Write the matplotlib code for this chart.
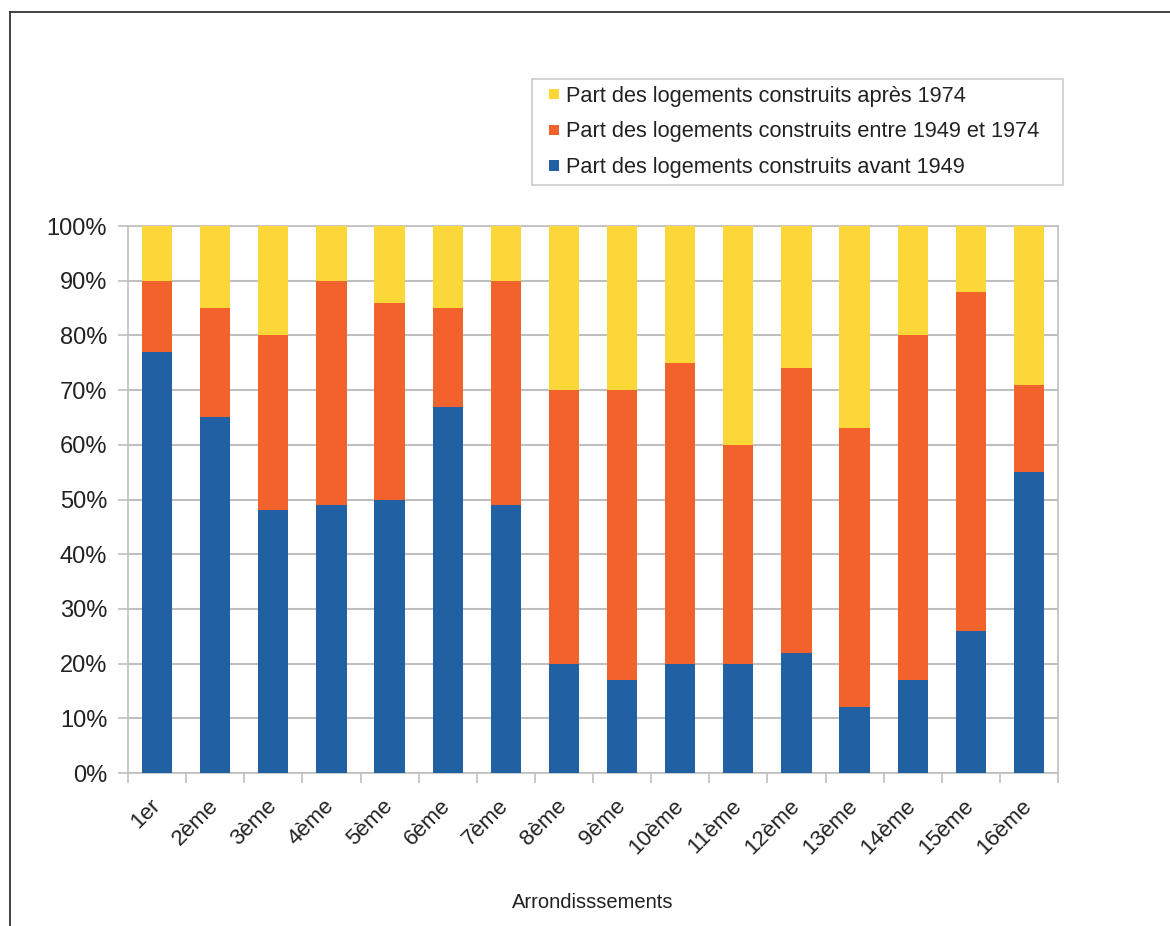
import numpy as np
import matplotlib
matplotlib.use("Agg")
from matplotlib import pyplot as plt
from matplotlib.lines import Line2D
from matplotlib.patches import Rectangle
from matplotlib.legend_handler import HandlerPatch

plt.rcParams['font.family'] = ['Liberation Sans', 'DejaVu Sans']

arrondissements = ['1er', '2ème', '3ème', '4ème', '5ème', '6ème', '7ème', '8ème',
                   '9ème', '10ème', '11ème', '12ème', '13ème', '14ème', '15ème', '16ème']
avant_1949 = [77, 65, 48, 49, 50, 67, 49, 20, 17, 20, 20, 22, 12, 17, 26, 55]
entre_1949_1974 = [13, 20, 32, 41, 36, 18, 41, 50, 53, 55, 40, 52, 51, 63, 62, 16]
apres_1974 = [10, 15, 20, 10, 14, 15, 10, 30, 30, 25, 40, 26, 37, 20, 12, 29]

labels = ['Part des logements construits avant 1949',
          'Part des logements construits entre 1949 et 1974',
          'Part des logements construits après 1974']
couleurs = ['#2161A3', '#F2622D', '#FBD737']
gris = '#BFBFBF'
texte = '#222222'


def carre(legend, orig_handle, xdescent, ydescent, width, height, fontsize):
    # petit carré collé à droite de la zone du symbole
    c = 7.3
    return Rectangle((width - c - xdescent, (height - c) / 2 - ydescent), c, c)


fig = plt.figure(figsize=(11.7, 9.26), dpi=100)
ax = fig.add_axes([0.1094, 0.1652, 0.7949, 0.5907])

x = np.arange(len(arrondissements))
bas = np.zeros(len(x))
barres = []
for serie, lab, c in zip([avant_1949, entre_1949_1974, apres_1974], labels, couleurs):
    b = ax.bar(x, serie, width=0.52, bottom=bas, color=c, label=lab, zorder=3)
    barres.append(b)
    bas = bas + np.array(serie)

ax.set_xlim(-0.5, len(x) - 0.5)
ax.set_ylim(0, 100)
ax.set_yticks(range(0, 101, 10))
ax.set_yticklabels(['%d%%' % v for v in range(0, 101, 10)], fontsize=17, color=texte)
ax.yaxis.grid(True, color=gris, linewidth=1.5, zorder=0)

# étiquettes légèrement décalées vers la gauche, comme dans l'original
ax.set_xticks(x - 0.13)
ax.set_xticklabels(arrondissements, rotation=45, ha='right', rotation_mode='anchor',
                   fontsize=16, color=texte)
ax.set_xticks(np.arange(-0.5, len(x)), minor=True)
ax.tick_params(axis='x', which='major', length=0, pad=16)
ax.tick_params(axis='x', which='minor', length=7, color=gris, width=1.2)
ax.tick_params(axis='y', length=7, color=gris, width=1.2, pad=8)

for s in ['left', 'right', 'bottom', 'top']:
    ax.spines[s].set_color(gris)
    ax.spines[s].set_linewidth(1.2)

ax.set_xlabel('Arrondisssements', fontsize=14.5, color=texte, labelpad=25)

handles = [b.patches[0] for b in barres[::-1]]
leg = fig.legend(handles, labels[::-1], loc='upper left', mode='expand',
                 bbox_to_anchor=(0.4547, 0.8013, 0.4538, 0.1134), fontsize=15.7,
                 frameon=True, fancybox=False, edgecolor=gris,
                 handler_map={Rectangle: HandlerPatch(patch_func=carre)},
                 handlelength=0.94, handleheight=0.7, handletextpad=0.32,
                 borderpad=0.3, labelspacing=0.68, borderaxespad=0)
leg.get_frame().set_linewidth(1.2)
for t in leg.get_texts():
    t.set_color(texte)

# cadre de la figure (haut et gauche)
fig.add_artist(Line2D([0.0085, 1.0], [0.987, 0.987], color='#333333', linewidth=1.3,
                      transform=fig.transFigure))
fig.add_artist(Line2D([0.0085, 0.0085], [0.0, 0.987], color='#333333', linewidth=1.3,
                      transform=fig.transFigure))

fig.savefig('out.png', dpi=100)
